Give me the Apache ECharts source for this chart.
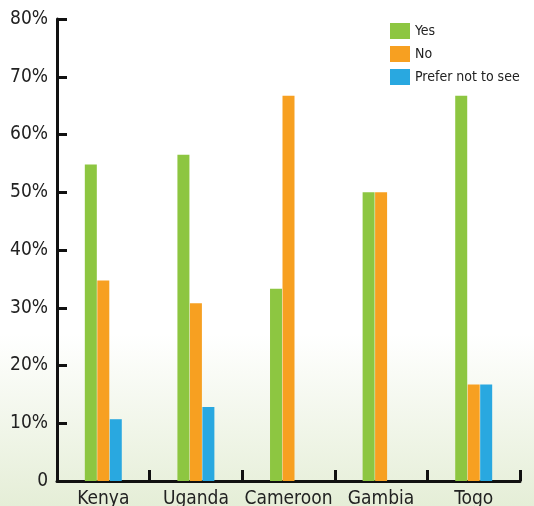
<!DOCTYPE html>
<html>
<head>
<meta charset="utf-8">
<script src="https://cdn.jsdelivr.net/npm/echarts@6/dist/echarts.min.js"></script>
<style>
  html, body { margin: 0; padding: 0; }
  #chart { width: 534px; height: 506px; }
</style>
</head>
<body>
<div id="chart"></div>
<script>
// Survey answers by country, in percent
const countries = ['Kenya', 'Uganda', 'Cameroon', 'Gambia', 'Togo'];
const yesValues = [54.8, 56.5, 33.3, 50.0, 66.7];
const noValues = [34.7, 30.8, 66.7, 50.0, 16.7];
const preferNotValues = [10.7, 12.8, 0, 0, 16.7];
const seriesNames = ['Yes', 'No', 'Prefer not to see'];
const yTicks = [0, 10, 20, 30, 40, 50, 60, 70, 80];

const FONT = '"DejaVu Sans Condensed", "Liberation Sans Narrow", "Roboto Condensed", sans-serif';
const colors = ['#8dc641', '#f7a021', '#29a8e0'];

const chart = echarts.init(document.getElementById('chart'));

function barSeries(name, data, color) {
  return {
    name: name,
    type: 'bar',
    data: data,
    barWidth: 12,
    barGap: '4%',
    itemStyle: { color: color },
    emphasis: { disabled: true }
  };
}

chart.setOption({
  animation: false,
  backgroundColor: {
    type: 'linear', x: 0, y: 0, x2: 0, y2: 1,
    colorStops: [
      { offset: 0, color: '#ffffff' },
      { offset: 0.66, color: '#ffffff' },
      { offset: 1, color: '#e5eed7' }
    ]
  },
  grid: { left: 57, right: 14, top: 19, bottom: 25, outerBoundsMode: 'none', containLabel: false },
  legend: {
    orient: 'vertical',
    left: 385,
    top: 18,
    icon: 'rect',
    itemWidth: 20,
    itemHeight: 16,
    itemGap: 7,
    selectedMode: false,
    data: seriesNames,
    textStyle: { fontFamily: FONT, fontSize: 14, color: '#222' }
  },
  xAxis: {
    type: 'category',
    data: countries,
    axisLine: { lineStyle: { color: '#111', width: 3 } },
    axisTick: { show: true, interval: 0, inside: true, length: 11, lineStyle: { color: '#111', width: 3 } },
    axisLabel: { interval: 0, fontFamily: FONT, fontSize: 19, color: '#222', margin: 9 }
  },
  yAxis: {
    type: 'value',
    min: yTicks[0],
    max: yTicks[yTicks.length - 1],
    interval: 10,
    splitLine: { show: false },
    axisLine: { show: true, lineStyle: { color: '#111', width: 3 } },
    axisTick: { show: true, inside: true, length: 10, lineStyle: { color: '#111', width: 3 } },
    axisLabel: {
      fontFamily: FONT, fontSize: 19, color: '#222', margin: 9,
      formatter: v => (v === 0 ? '0' : v + '%')
    }
  },
  series: [
    barSeries(seriesNames[0], yesValues, colors[0]),
    barSeries(seriesNames[1], noValues, colors[1]),
    barSeries(seriesNames[2], preferNotValues, colors[2])
  ]
});
</script>
</body>
</html>
